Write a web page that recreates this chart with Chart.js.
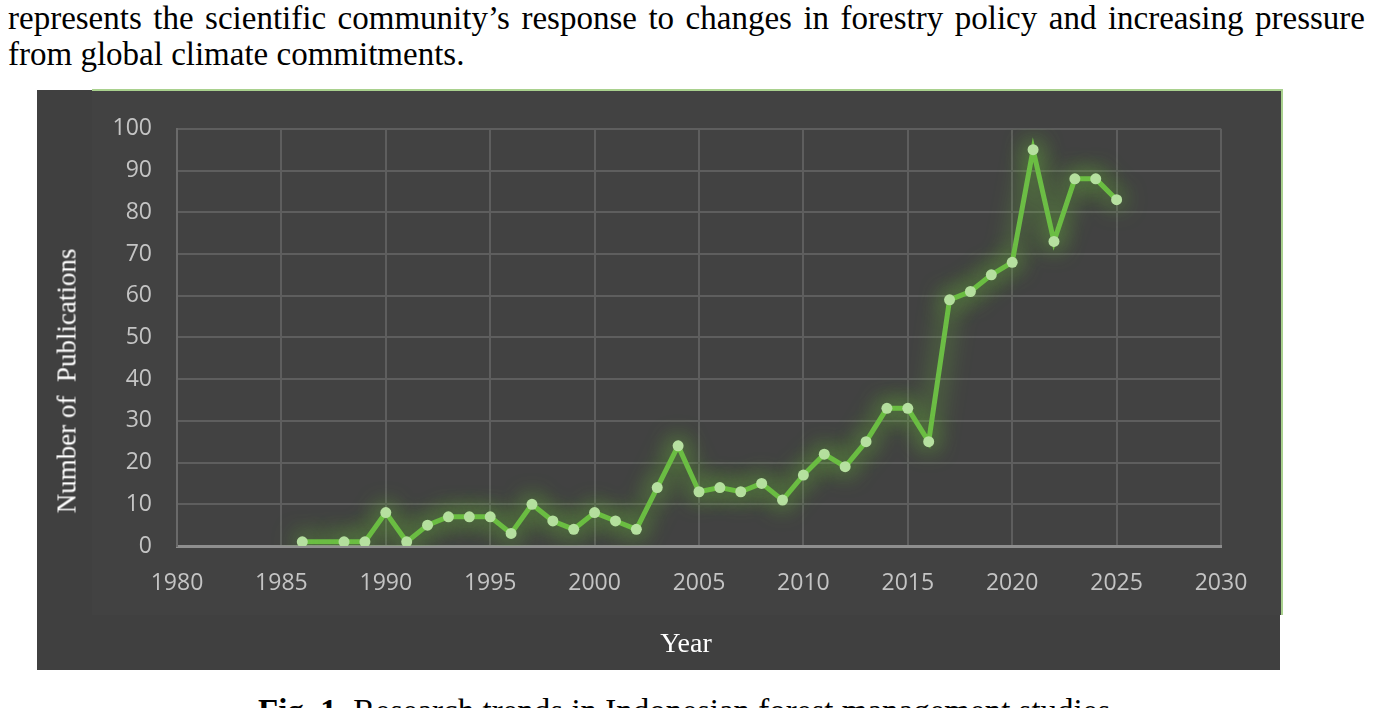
<!DOCTYPE html>
<html>
<head>
<meta charset="utf-8">
<script src="https://cdn.jsdelivr.net/npm/chart.js@4.4.1/dist/chart.umd.min.js"></script>
<style>
  html, body { margin: 0; padding: 0; background: #fff; }
  body { width: 1373px; height: 708px; position: relative; overflow: hidden; font-family: "Liberation Serif", "Times New Roman", serif; }
  .para { position: absolute; left: 8px; width: 1357px; font-size: 33px; line-height: 36px; color: #000; white-space: nowrap; }
  .line1 { top: 0px; text-align: justify; text-align-last: justify; }
  .line2 { top: 36px; }
  #outer { position: absolute; left: 37px; top: 90px; width: 1243px; height: 580px; background: #404040; }
  #inner { position: absolute; left: 92px; top: 89px; width: 1189px; height: 524px; background: #424242; border-top: 2px solid #a9d18e; border-right: 2px solid #a9d18e; }
  #wrap { position: absolute; left: 37px; top: 90px; width: 1243px; height: 580px; }
  .ytitle { position: absolute; left: 67px; top: 381px; transform: translate(-50%, -50%) rotate(-90deg); color: #fff; font-size: 27px; white-space: pre; }
  .xtitle { position: absolute; left: 686px; top: 643px; transform: translate(-50%, -50%); color: #fff; font-size: 28px; }
  .caption { position: absolute; left: 258px; top: 693px; font-size: 33px; line-height: 36px; color: #000; white-space: nowrap; }
</style>
</head>
<body>
<div class="para line1">represents the scientific community’s response to changes in forestry policy and increasing pressure</div>
<div class="para line2">from global climate commitments.</div>
<div id="outer"></div>
<div id="inner"></div>
<div id="wrap"><canvas id="chart"></canvas></div>
<div class="ytitle">Number of  Publications</div>
<div class="xtitle">Year</div>
<div class="caption"><b>Fig. 1.</b> Research trends in Indonesian forest management studies</div>
<script>
// publications per year
const years = [1986, 1988, 1989, 1990, 1991, 1992, 1993, 1994, 1995, 1996, 1997, 1998, 1999,
  2000, 2001, 2002, 2003, 2004, 2005, 2006, 2007, 2008, 2009, 2010, 2011, 2012, 2013, 2014,
  2015, 2016, 2017, 2018, 2019, 2020, 2021, 2022, 2023, 2024, 2025];
const publications = [1, 1, 1, 8, 1, 5, 7, 7, 7, 3, 10, 6, 4,
  8, 6, 4, 14, 24, 13, 14, 13, 15, 11, 17, 22, 19, 25, 33,
  33, 25, 59, 61, 65, 68, 95, 73, 88, 88, 83];
const xTicks = [1980, 1985, 1990, 1995, 2000, 2005, 2010, 2015, 2020, 2025, 2030];
const yTicks = [0, 10, 20, 30, 40, 50, 60, 70, 80, 90, 100];

const points = years.map((yr, i) => ({ x: yr, y: publications[i] }));

// soft green glow around the line and markers
const glow = {
  id: 'glow',
  beforeDatasetDraw(chart) {
    const ctx = chart.ctx;
    ctx.save();
    ctx.shadowColor = 'rgba(110, 200, 55, 0.95)';
    ctx.shadowBlur = 24;
  },
  afterDatasetDraw(chart) {
    chart.ctx.restore();
  }
};

const tickFont = { family: '"Open Sans", "Noto Sans", sans-serif', size: 23 };

new Chart(document.getElementById('chart'), {
  type: 'line',
  data: {
    datasets: [{
      data: points,
      borderColor: '#6cbd45',
      borderWidth: 5,
      pointRadius: 5.5,
      pointHoverRadius: 5.5,
      pointBackgroundColor: '#b6e0a0',
      pointBorderWidth: 0,
      tension: 0
    }]
  },
  options: {
    responsive: true,
    maintainAspectRatio: false,
    animation: false,
    layout: { padding: { top: 36, right: 59, bottom: 0, left: 0 } },
    plugins: { legend: { display: false }, tooltip: { enabled: false } },
    scales: {
      x: {
        type: 'linear',
        min: 1980,
        max: 2030,
        afterBuildTicks: s => { s.ticks = xTicks.map(v => ({ value: v })); },
        afterFit: s => { s.height = 124; },
        ticks: {
          color: '#c4c4c4',
          font: tickFont,
          padding: 24,
          maxRotation: 0,
          callback: v => String(v)
        },
        grid: { color: '#5e5e5e', lineWidth: 2, drawTicks: false },
        border: { color: '#8e8e8e', width: 3 }
      },
      y: {
        min: 0,
        max: 100,
        afterBuildTicks: s => { s.ticks = yTicks.map(v => ({ value: v })); },
        afterFit: s => { s.width = 140; },
        ticks: {
          color: '#c4c4c4',
          font: tickFont,
          padding: 25,
          callback: v => String(v)
        },
        grid: { color: '#5e5e5e', lineWidth: 2, drawTicks: false },
        border: { color: '#6a6a6a', width: 2 }
      }
    }
  },
  plugins: [glow]
});
</script>
</body>
</html>
